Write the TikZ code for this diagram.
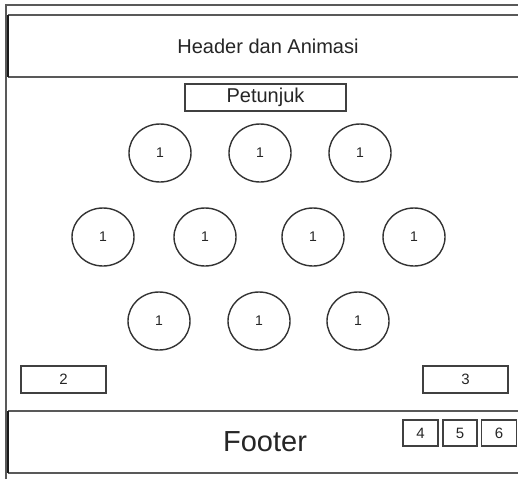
\documentclass[tikz,border=0pt]{standalone}
\usepackage{fontspec}
\setmainfont{Liberation Sans}
\usetikzlibrary{shapes.geometric}
\begin{document}
\begin{tikzpicture}[x=1pt,y=-1pt,
  frameline/.style={draw=black!65,line width=1.6pt},
  edgeline/.style={draw=black!90,line width=2pt},
  bubble/.style={ellipse,draw=black!80,line width=1.4pt,minimum width=62pt,minimum height=58pt,inner sep=0pt,text=black!85,font=\fontsize{14}{16}\selectfont},
  smallbox/.style={draw=black!75,line width=1.4pt,inner sep=0pt,text=black!85,font=\fontsize{15}{17}\selectfont},
  lbl/.style={inner sep=0pt,text=black!85}]
\useasboundingbox (0,0) rectangle (518,479);
\fill[white] (0,0) rectangle (518,479);
% outer frame lines
\draw[frameline] (6,479) -- (6,5) -- (518,5);
% header
\draw[frameline] (518,15) -- (8,15);
\draw[frameline] (8,77) -- (518,77);
\draw[edgeline] (8,15) -- (8,77);
\node[lbl,font=\fontsize{20}{22}\selectfont] (header) at (268,46) {Header dan Animasi};
% petunjuk
\node[smallbox,minimum width=161pt,minimum height=27pt,font=\fontsize{20}{22}\selectfont] (petunjuk) at (265.5,97.5) {Petunjuk};
% circles
\node[bubble] (c1) at (160,153) {1};
\node[bubble] (c2) at (260,153) {1};
\node[bubble] (c3) at (360,153) {1};
\node[bubble] (c4) at (103,237) {1};
\node[bubble] (c5) at (205,237) {1};
\node[bubble] (c6) at (313,237) {1};
\node[bubble] (c7) at (414,237) {1};
\node[bubble] (c8) at (159,321) {1};
\node[bubble] (c9) at (259,321) {1};
\node[bubble] (c10) at (358,321) {1};
% boxes 2 and 3
\node[smallbox,minimum width=85pt,minimum height=27pt] (b2) at (63.5,379.5) {2};
\node[smallbox,minimum width=85pt,minimum height=27pt] (b3) at (465.5,379.5) {3};
% footer
\draw[frameline] (518,411) -- (8,411);
\draw[frameline] (8,473) -- (518,473);
\draw[edgeline] (8,411) -- (8,473);
\node[lbl,font=\fontsize{29}{32}\selectfont] (footer) at (265,442) {Footer};
\node[smallbox,minimum width=35pt,minimum height=26pt] (b4) at (420.5,433) {4};
\node[smallbox,minimum width=34pt,minimum height=26pt] (b5) at (460,433) {5};
\node[smallbox,minimum width=35pt,minimum height=26pt] (b6) at (499,433) {6};
\end{tikzpicture}
\end{document}
